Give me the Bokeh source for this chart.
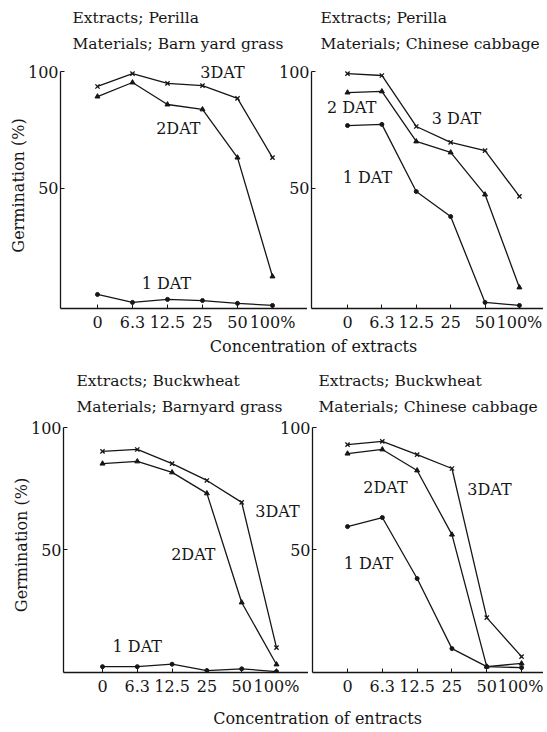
from bokeh.plotting import figure
from bokeh.layouts import column, row
from bokeh.models import FixedTicker, Label
from bokeh.embed import file_html
from bokeh.resources import INLINE

# ---- data -------------------------------------------------------------
concentrations = ["0", "6.3", "12.5", "25", "50", "100%"]
conc_index = [0, 1, 2, 3, 4, 5]

# Extracts: Perilla, Materials: Barn yard grass
perilla_barnyard_3dat = [93.6, 99.1, 94.9, 94.0, 88.5, 63.2]
perilla_barnyard_2dat = [89.3, 95.3, 85.9, 83.8, 63.2, 12.4]
perilla_barnyard_1dat = [4.7, 1.3, 2.6, 2.1, 0.9, 0.0]

# Extracts: Perilla, Materials: Chinese cabbage
perilla_cabbage_3dat = [99.1, 98.3, 76.5, 69.7, 66.2, 46.6]
perilla_cabbage_2dat = [91.0, 91.5, 70.1, 65.4, 47.4, 7.7]
perilla_cabbage_1dat = [76.9, 77.4, 48.7, 38.0, 1.3, 0.0]

# Extracts: Buckwheat, Materials: Barnyard grass
buckwheat_barnyard_3dat = [90.2, 91.0, 85.2, 78.3, 69.3, 9.8]
buckwheat_barnyard_2dat = [85.2, 86.1, 81.6, 73.0, 28.3, 2.9]
buckwheat_barnyard_1dat = [2.0, 2.0, 3.0, 0.4, 1.1, 0.0]

# Extracts: Buckwheat, Materials: Chinese cabbage
buckwheat_cabbage_3dat = [93.0, 94.3, 88.9, 83.2, 22.1, 6.1]
buckwheat_cabbage_2dat = [89.3, 91.0, 82.4, 56.1, 2.0, 3.3]
buckwheat_cabbage_1dat = [59.4, 63.1, 38.1, 9.4, 2.0, 1.6]

y_ticks = [50, 100]
y_label = "Germination (%)"
x_label_top = "Concentration of extracts"
x_label_bottom = "Concentration of entracts"

titles_top = [("Extracts; Perilla", "Materials; Barn yard grass"),
              ("Extracts; Perilla", "Materials; Chinese cabbage")]
titles_bottom = [("Extracts; Buckwheat", "Materials; Barnyard grass"),
                 ("Extracts; Buckwheat", "Materials; Chinese cabbage")]

FONT = "DejaVu Serif"
FSIZE = "16px"
TSIZE = "15.5px"
INK = "#161616"
W = 539


def make_panel(s3, s2, s1, dat_labels, xr, yr, fw, fh, bl, bb, ylabel,
               margin_left=0):
    p = figure(frame_width=fw, frame_height=fh, x_range=xr, y_range=yr,
               min_border_left=bl, min_border_right=0, min_border_top=0,
               min_border_bottom=bb, toolbar_location=None,
               output_backend="svg", title=None,
               margin=(0, 0, 0, margin_left))
    p.background_fill_alpha = 0
    p.border_fill_alpha = 0
    p.outline_line_color = None
    p.grid.visible = False

    for ax in (p.xaxis[0], p.yaxis[0]):
        ax.axis_line_color = INK
        ax.axis_line_width = 1.3
        ax.major_tick_line_color = INK
        ax.major_tick_out = 0
        ax.major_tick_in = 4
        ax.minor_tick_line_color = None
        ax.major_label_text_font = FONT
        ax.major_label_text_font_size = FSIZE
        ax.major_label_text_color = INK

    p.xaxis.ticker = FixedTicker(ticks=conc_index)
    p.xaxis.major_label_overrides = {i: c for i, c in zip(conc_index, concentrations)}
    p.xaxis.major_label_standoff = 4
    p.yaxis.ticker = FixedTicker(ticks=y_ticks, minor_ticks=[])
    p.yaxis.major_label_standoff = 2
    p.yaxis.bounds = (yr[0], 100)
    if ylabel:
        p.yaxis.axis_label = ylabel
        p.yaxis.axis_label_text_font = FONT
        p.yaxis.axis_label_text_font_size = FSIZE
        p.yaxis.axis_label_text_font_style = "normal"
        p.yaxis.axis_label_text_color = INK
        p.yaxis.axis_label_standoff = -3

    p.line(conc_index, s3, line_color=INK, line_width=1.3)
    p.scatter(conc_index, s3, marker="x", size=6, line_color=INK, line_width=1.3)
    p.line(conc_index, s2, line_color=INK, line_width=1.3)
    p.scatter(conc_index, s2, marker="triangle", size=5, fill_color=INK, line_color=INK)
    p.line(conc_index, s1, line_color=INK, line_width=1.3)
    p.scatter(conc_index, s1, marker="circle", size=4, fill_color=INK, line_color=INK)

    for text, x, y in dat_labels:
        p.add_layout(Label(x=x, y=y, text=text, text_align="center",
                           text_baseline="middle", text_font=FONT,
                           text_font_size=FSIZE, text_color=INK))
    return p


def make_strip(h, texts, size):
    s = figure(frame_width=W, frame_height=h, x_range=(0, W), y_range=(0, h),
               min_border=0, toolbar_location=None, output_backend="svg",
               title=None, x_axis_location=None, y_axis_location=None)
    s.background_fill_alpha = 0
    s.border_fill_alpha = 0
    s.outline_line_color = None
    s.grid.visible = False
    for text, x, y, align in texts:
        s.add_layout(Label(x=x, y=y, text=text, text_align=align,
                           text_baseline="middle", text_font=FONT,
                           text_font_size=size, text_color=INK))
    return s


head1 = make_strip(62, [(titles_top[0][0], 72, 45, "left"),
                        (titles_top[0][1], 72, 19, "left"),
                        (titles_top[1][0], 320, 45, "left"),
                        (titles_top[1][1], 320, 19, "left")], TSIZE)

p1 = make_panel(perilla_barnyard_3dat, perilla_barnyard_2dat, perilla_barnyard_1dat,
                [("3DAT", 3.57, 99.6), ("2DAT", 2.31, 75.6), ("1 DAT", 1.97, 9.4)],
                (-1.057, 6.0), (-1.3, 103.85), 247, 246, 60, 25, y_label)
p2 = make_panel(perilla_cabbage_3dat, perilla_cabbage_2dat, perilla_cabbage_1dat,
                [("3 DAT", 3.17, 79.9), ("2 DAT", 0.12, 84.6), ("1 DAT", 0.58, 54.7)],
                (-1.047, 5.70), (-1.3, 103.85), 232, 246, 32, 25, None,
                margin_left=-32)

foot1 = make_strip(27, [(x_label_top, 313, 15, "center")], FSIZE)

head2 = make_strip(56, [(titles_bottom[0][0], 76, 37, "left"),
                        (titles_bottom[0][1], 76, 11, "left"),
                        (titles_bottom[1][0], 318, 37, "left"),
                        (titles_bottom[1][1], 318, 11, "left")], TSIZE)

p3 = make_panel(buckwheat_barnyard_3dat, buckwheat_barnyard_2dat, buckwheat_barnyard_1dat,
                [("3DAT", 5.03, 65.6), ("2DAT", 2.61, 48.0), ("1 DAT", 1.0, 10.2)],
                (-1.121, 5.92), (-0.4, 104.1), 245, 255, 63, 26, y_label)
p4 = make_panel(buckwheat_cabbage_3dat, buckwheat_cabbage_2dat, buckwheat_cabbage_1dat,
                [("2DAT", 1.09, 75.4), ("3DAT", 4.08, 74.6), ("1 DAT", 0.6, 44.3)],
                (-1.006, 5.63), (-0.4, 104.1), 231, 255, 32, 26, None,
                margin_left=-32)

foot2 = make_strip(30, [(x_label_bottom, 317, 10, "center")], FSIZE)

layout = column(head1, row(p1, p2), foot1, head2, row(p3, p4), foot2)

open("out.html", "w").write(file_html(layout, INLINE))
